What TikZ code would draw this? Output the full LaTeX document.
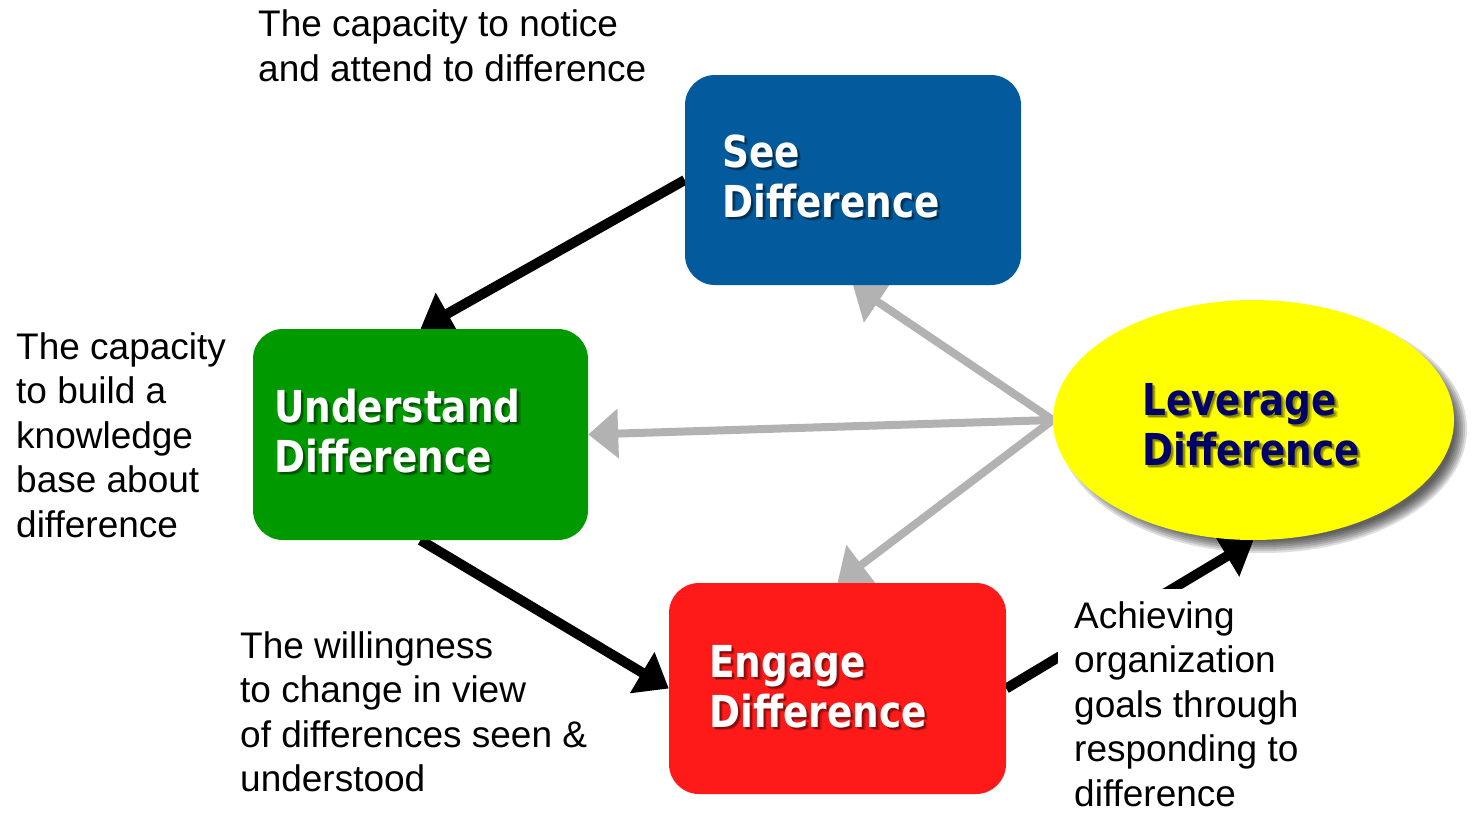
\documentclass[tikz,border=0pt]{standalone}
\usepackage{fontspec}
\setmainfont{Liberation Sans}
\newfontfamily\boxfont[FakeStretch=0.85]{DejaVu Sans}
\usetikzlibrary{arrows.meta,shapes.geometric}
\pgfdeclarelayer{bg}
\pgfsetlayers{bg,main}
\definecolor{seeblue}{HTML}{035A9C}
\definecolor{undgreen}{HTML}{009900}
\definecolor{engred}{HTML}{FF1A1A}
\definecolor{levyellow}{HTML}{FFFF00}
\definecolor{levnavy}{HTML}{000066}
\definecolor{lgray}{HTML}{B2B2B2}
% box title with a soft drop shadow; (#2,#3) is the baseline of its last line
\newcommand\boxtitle[5]{%
  \node[title,text=black,opacity=0.22,xshift=3.5pt,yshift=-3.5pt] at (#2,#3) {#5};
  \node[title,text=black,opacity=0.30,xshift=2pt,yshift=-2pt] at (#2,#3) {#5};
  \node[title,text=#4] (#1) at (#2,#3) {#5};}
\begin{document}
\begin{tikzpicture}[x=1pt,y=-1pt,
  box/.style={rectangle,rounded corners=30pt,inner sep=0pt,draw=none,
    minimum width=336pt,minimum height=210pt},
  title/.style={anchor=base west,align=left,inner sep=0pt,
    font=\boxfont\bfseries\fontsize{44}{50}\selectfont},
  note/.style={anchor=base west,align=left,inner sep=0pt,
    font=\fontsize{37}{44.5}\selectfont},
  flow/.style={draw=black,line width=10pt,-{Triangle[length=31pt,width=46pt]}},
  reach/.style={draw=lgray,line width=8pt,-{Triangle[length=30pt,width=48pt]}}
]
\useasboundingbox (0,0) rectangle (1472,812);

% the three boxes
\node[box,fill=seeblue] (see) at (853,180) {};
\node[box,fill=undgreen,minimum width=335pt,minimum height=211pt] (und) at (420.5,434.5) {};
\node[box,fill=engred,minimum width=337pt,minimum height=211pt] (eng) at (837.5,688.5) {};

% ellipse with its blurred shadow
\foreach \i in {0,...,6}
  \fill[black,opacity=0.13] (1263,429) ellipse [x radius={192pt+2pt*\i}, y radius={112pt+2pt*\i}];
\node[ellipse,fill=levyellow,minimum width=401pt,minimum height=240pt,inner sep=0pt] (lev) at (1253.5,420) {};

% titles
\boxtitle{seet}{722}{217}{white}{See\\Difference}
\boxtitle{undt}{274}{472}{white}{Understand\\Difference}
\boxtitle{engt}{709}{727}{white}{Engage\\Difference}
\boxtitle{levt}{1142}{465}{levnavy}{Leverage\\Difference}

% connectors
\begin{pgfonlayer}{bg}
  \draw[reach] (lev.west) -- (see.south);
  \draw[reach] (lev.west) -- (und.east);
  \draw[reach] (lev.west) -- (eng.north);
  \draw[flow] (see.west) -- (und.north);
  \draw[flow] (und.south) -- (eng.west);
  \draw[flow] (eng.east) -- (lev.south);
\end{pgfonlayer}

% descriptions (each placed at the baseline of its last line)
\node[note] (seenote) at (258,81) {The capacity to notice\\and attend to difference};
\node[note] (undnote) at (16,537) {The capacity\\to build a\\knowledge\\base about\\difference};
\node[note] (engnote) at (240,791.5) {The willingness\\to change in view\\of differences seen \&\\understood};
\node[note,fill=white,inner xsep=16pt,inner ysep=12pt] (levnote) at (1058,806)
  {Achieving\\organization\\goals through\\responding to\\difference};
\end{tikzpicture}
\end{document}
